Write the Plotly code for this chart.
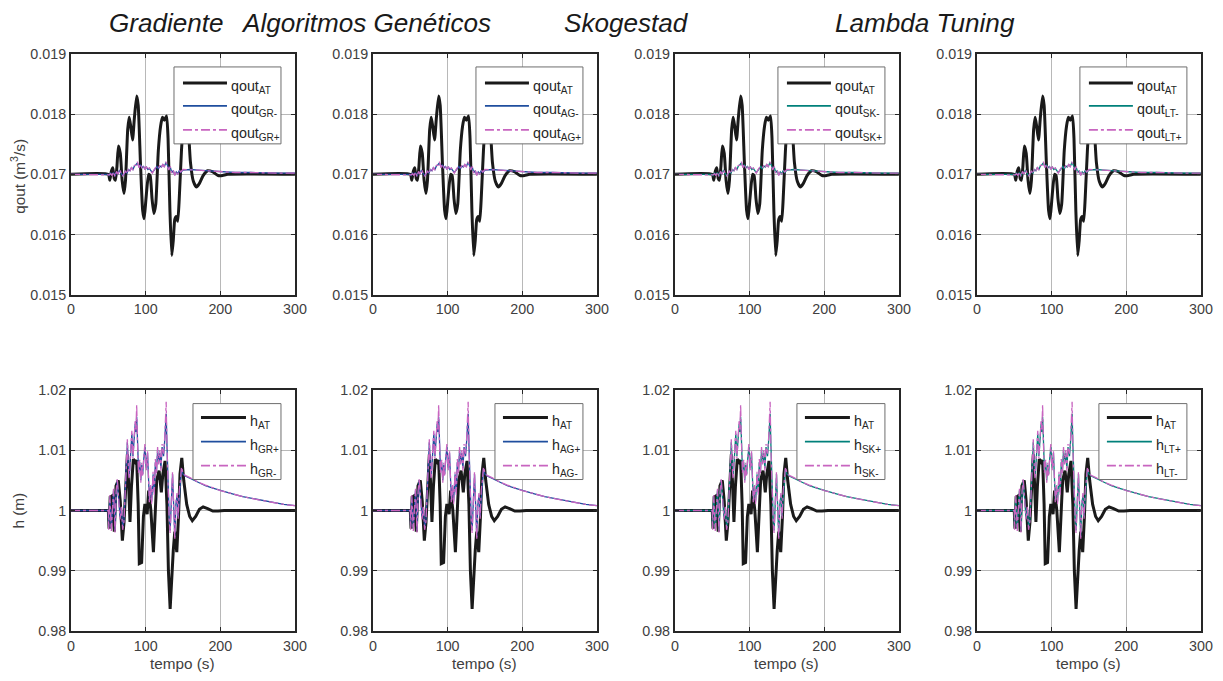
import plotly.graph_objects as go

# ---- flow rate qout (m^3/s) ----
T_Q_AT = [0, 50, 52, 54, 56, 58, 59.5, 61.5, 63.5, 66,
          68.5, 71, 73, 76, 78, 80, 82.5, 85, 88, 90,
          93, 96, 98, 100.5, 104, 106, 108.5, 111, 113.5, 117,
          120, 122.5, 125, 128, 130, 132.5, 135, 137, 139, 141,
          143, 145, 148, 151, 154, 157, 160, 164, 168, 172,
          177, 183, 190, 197, 203, 210, 300]
Q_AT = [0.01700, 0.01700, 0.01690, 0.01705, 0.01711, 0.01693, 0.01690, 0.01712, 0.01747, 0.01735,
        0.01690, 0.01668, 0.01690, 0.01775, 0.01795, 0.01780, 0.01757, 0.01795, 0.01830, 0.01815,
        0.01720, 0.01640, 0.01626, 0.01660, 0.01700, 0.01698, 0.01660, 0.01635, 0.01650, 0.01740,
        0.01780, 0.01795, 0.01790, 0.01797, 0.01760, 0.01640, 0.01565, 0.01590, 0.01625, 0.01630,
        0.01622, 0.01660, 0.01740, 0.01790, 0.01810, 0.01780, 0.01720, 0.01688, 0.01679, 0.01685,
        0.01698, 0.01706, 0.01704, 0.01698, 0.01698, 0.01700, 0.01700]

T_Q = [0, 50,
       51, 53, 55, 57, 59, 61, 63, 65, 67, 69,
       71, 73, 75, 77, 79, 81, 83, 85, 87, 89,
       91, 93, 95, 97, 99, 101, 103, 105, 107, 109,
       111, 113, 115, 117, 119, 121, 123, 125, 127, 129,
       131, 133, 135, 137, 139, 141, 143, 145, 147,
       150, 155, 160, 170, 180, 190, 200, 220, 240, 260, 280, 300]
Q_MINUS = [0.01700, 0.01700,
           0.01698, 0.01702, 0.01699, 0.01703, 0.01697, 0.01704, 0.01701, 0.01707, 0.01702, 0.01698,
           0.01700, 0.01705, 0.01702, 0.01708, 0.01706, 0.01711, 0.01708, 0.01714, 0.01716, 0.01719,
           0.01712, 0.01716, 0.01711, 0.01713, 0.01709, 0.01712, 0.01708, 0.01710, 0.01706, 0.01703,
           0.01706, 0.01710, 0.01713, 0.01709, 0.01714, 0.01712, 0.01716, 0.01713, 0.01719, 0.01716,
           0.01708, 0.01712, 0.01703, 0.01706, 0.01699, 0.01704, 0.01701, 0.01706, 0.01703,
           0.01707, 0.01708, 0.01708, 0.01707, 0.01706, 0.01705, 0.01704, 0.01703, 0.01703, 0.01702, 0.01702, 0.01702]
Q_PLUS = [0.01700, 0.01700,
          0.01699, 0.01701, 0.01698, 0.01704, 0.01696, 0.01705, 0.01700, 0.01708, 0.01701, 0.01697,
          0.01701, 0.01706, 0.01701, 0.01709, 0.01705, 0.01712, 0.01707, 0.01715, 0.01715, 0.01721,
          0.01711, 0.01717, 0.01710, 0.01714, 0.01708, 0.01713, 0.01707, 0.01711, 0.01705, 0.01702,
          0.01707, 0.01711, 0.01712, 0.01710, 0.01715, 0.01711, 0.01717, 0.01712, 0.01721, 0.01715,
          0.01707, 0.01713, 0.01702, 0.01707, 0.01698, 0.01705, 0.01700, 0.01707, 0.01704,
          0.01708, 0.01708, 0.01708, 0.01707, 0.01706, 0.01705, 0.01704, 0.01703, 0.01703, 0.01702, 0.01702, 0.01702]

# ---- level h (m) ----
T_H_AT = [0, 50, 51, 52.5, 55, 57, 58, 60.3, 63.4, 66,
          68.8, 71, 73, 75.5, 77, 79, 81, 83.5, 86, 88,
          90, 91.5, 94.6, 97, 99, 102, 104, 107, 110.4, 112.5,
          114.8, 118, 121, 123, 126, 128.5, 130.5, 132.8, 134.5, 137,
          139, 141.7, 144, 146, 148.4, 151, 155, 159, 162.5, 167,
          172, 177, 183, 190, 197, 205, 300]
H_AT = [1.0, 1.0, 0.9970, 1.0022, 1.0024, 0.9980, 0.9965, 1.0041, 1.0050, 1.0015,
        0.9950, 0.9980, 1.0040, 1.0093, 1.0050, 0.9981, 1.0040, 1.0085, 1.0080, 1.0083,
        1.0010, 0.9912, 0.9914, 0.9990, 1.0011, 0.9994, 1.0033, 1.0000, 0.9931, 0.9990,
        1.0050, 1.0066, 1.0030, 1.0060, 1.0082, 1.0010, 0.9900, 0.9837, 0.9880, 0.9934,
        0.9965, 0.9931, 0.9990, 1.0060, 1.0087, 1.0050, 1.0010, 0.9990, 0.9983, 0.9990,
        1.0002, 1.0006, 1.0003, 0.9999, 0.9999, 1.0000, 1.0000]

T_H = [0, 50, 50.5, 52, 54, 55.5, 57, 59, 60.5, 62,
       64, 65.7, 67.5, 69.2, 71, 73, 75.5, 77, 78, 80,
       81.5, 83, 84.5, 86, 87, 88, 89, 90.4, 92, 93.5,
       94.6, 96, 97.5, 99, 100, 101, 102.5, 103.5, 105, 106.5,
       108, 110, 111.5, 113, 114.5, 116, 117.5, 119, 120.5, 122,
       124, 125.5, 127.5, 128.5, 130, 131.5, 132.8, 134, 135, 136,
       137.5, 139, 140.5, 142, 143.5, 145, 146.5, 148, 150, 153,
       160, 170, 180, 190, 200, 215, 230, 250, 270, 285,
       300]
H_PLUS = [1.0, 1.0, 0.9972, 1.0022, 0.9970, 1.0015, 1.0033, 0.9967, 1.0030, 1.0050,
          1.0010, 0.9989, 1.0005, 0.9972, 0.9985, 1.0040, 1.0113, 1.0070, 1.0055, 1.0095,
          1.0127, 1.0090, 1.0120, 1.0143, 1.0130, 1.0155, 1.0120, 1.0066, 1.0080, 1.0050,
          1.0075, 1.0060, 1.0085, 1.0105, 1.0085, 1.0070, 1.0095, 1.0060, 1.0017, 1.0040,
          1.0015, 1.0060, 1.0030, 1.0080, 1.0065, 1.0100, 1.0080, 1.0095, 1.0070, 1.0105,
          1.0090, 1.0115, 1.0160, 1.0110, 1.0020, 0.9990, 0.9967, 1.0010, 1.0040, 1.0060,
          1.0010, 0.9956, 1.0010, 1.0025, 0.9990, 1.0030, 1.0045, 1.0069, 1.0060, 1.0057,
          1.0053, 1.0046, 1.0041, 1.0037, 1.0033, 1.0028, 1.0023, 1.0018, 1.0013, 1.0010,
          1.0008]
H_MINUS = [1.0, 1.0, 0.9968, 1.0025, 0.9966, 1.0018, 1.0036, 0.9963, 1.0033, 1.0053,
           1.0007, 0.9985, 1.0008, 0.9968, 0.9982, 1.0043, 1.0118, 1.0066, 1.0052, 1.0100,
           1.0132, 1.0086, 1.0125, 1.0150, 1.0134, 1.0175, 1.0116, 1.0062, 1.0084, 1.0046,
           1.0079, 1.0056, 1.0089, 1.0110, 1.0081, 1.0066, 1.0099, 1.0056, 1.0013, 1.0044,
           1.0011, 1.0064, 1.0026, 1.0085, 1.0061, 1.0105, 1.0076, 1.0100, 1.0066, 1.0110,
           1.0094, 1.0120, 1.0180, 1.0106, 1.0016, 0.9986, 0.9963, 1.0014, 1.0044, 1.0064,
           1.0006, 0.9952, 1.0014, 1.0029, 0.9986, 1.0034, 1.0049, 1.0072, 1.0062, 1.0058,
           1.0054, 1.0047, 1.0042, 1.0037, 1.0033, 1.0028, 1.0023, 1.0018, 1.0013, 1.0010,
           1.0008]

TITLES = ["Gradiente", "Algoritmos Genéticos", "Skogestad", "Lambda Tuning"]
TAGS = ["GR", "AG", "SK", "LT"]
CTL_COLORS = ["#1f4e9e", "#1f4e9e", "#00807a", "#00807a"]
TITLE_X = [167, 366, 627, 925]

X_TICKS = [0, 100, 200, 300]
Q_TICKS = [0.015, 0.016, 0.017, 0.018, 0.019]
Q_TICKTEXT = ["0.015", "0.016", "0.017", "0.018", "0.019"]
H_TICKS = [0.98, 0.99, 1.0, 1.01, 1.02]
H_TICKTEXT = ["0.98", "0.99", "1", "1.01", "1.02"]

W, H = 1223, 681
# layout positions below are given in page pixels; the page shows the figure
# slightly reduced and offset, so convert page pixels to figure fractions
VIEW_SX, VIEW_OX = 0.987, 4.0
VIEW_SY, VIEW_OY = 0.9775, 7.0
FONT = "Liberation Sans, Arial, Helvetica, sans-serif"
BLACK = "#1a1a1a"
PINK = "#c865c0"

PANEL_LEFT = [71, 373, 675, 977]
PANEL_W = 224
TOP_Y = (53, 294)
BOT_Y = (389, 631)


def px_x(p):
    return (p - VIEW_OX) / VIEW_SX / W


def px_y(p):
    return 1 - (p - VIEW_OY) / VIEW_SY / H


def fs(size):
    return round(size / VIEW_SY, 1)


fig = go.Figure()

axis_common = dict(
    showgrid=True, gridcolor="#b8b8b8", gridwidth=1,
    showline=True, linecolor="#262626", linewidth=2, mirror="ticks",
    ticks="inside", ticklen=4, tickcolor="#262626", tickwidth=1,
    tickfont=dict(family=FONT, size=fs(14), color="#404040"),
    zeroline=False, fixedrange=True,
)

layout = dict(
    width=W, height=H, autosize=False,
    margin=dict(l=0, r=0, t=0, b=0),
    paper_bgcolor="white", plot_bgcolor="white",
    font=dict(family=FONT, color="#262626"),
    showlegend=False,
    annotations=[], shapes=[],
)


def add_legend_box(right, box_left, top, bottom, line_x0, line_x1, rows, entries):
    """Boxed key drawn in pixel units: entries are (label, color, width, dash)."""
    layout["shapes"].append(dict(
        type="rect", xref="paper", yref="paper",
        x0=px_x(box_left), x1=px_x(right), y0=px_y(bottom), y1=px_y(top),
        fillcolor="white", line=dict(color="#6e6e6e", width=1), layer="above"))
    for (label, color, width, dash), ry in zip(entries, rows):
        layout["shapes"].append(dict(
            type="line", xref="paper", yref="paper",
            x0=px_x(line_x0), x1=px_x(line_x1), y0=px_y(ry), y1=px_y(ry),
            line=dict(color=color, width=width, dash=dash), layer="above"))
        layout["annotations"].append(dict(
            text=label, xref="paper", yref="paper",
            x=px_x(line_x1 + 2), y=px_y(ry + 4), xanchor="left", yanchor="middle",
            showarrow=False, font=dict(family=FONT, size=fs(14), color="#262626")))


for i in range(4):
    tag = TAGS[i]
    col = CTL_COLORS[i]
    left = PANEL_LEFT[i]
    right = left + PANEL_W
    dom_x = [px_x(left), px_x(right)]
    top_n = i + 1
    bot_n = i + 5

    # upper row: outlet flow
    xa, ya = f"x{top_n}", f"y{top_n}"
    fig.add_trace(go.Scatter(x=T_Q_AT, y=Q_AT, mode="lines", xaxis=xa, yaxis=ya,
                             name="qout<sub>AT</sub>",
                             line=dict(color=BLACK, width=3, shape="spline", smoothing=0.5)))
    fig.add_trace(go.Scatter(x=T_Q, y=Q_MINUS, mode="lines", xaxis=xa, yaxis=ya,
                             name=f"qout<sub>{tag}-</sub>",
                             line=dict(color=col, width=1.3)))
    fig.add_trace(go.Scatter(x=T_Q, y=Q_PLUS, mode="lines", xaxis=xa, yaxis=ya,
                             name=f"qout<sub>{tag}+</sub>",
                             line=dict(color=PINK, width=1.3, dash="dashdot")))

    # lower row: tank level
    xb, yb = f"x{bot_n}", f"y{bot_n}"
    fig.add_trace(go.Scatter(x=T_H_AT, y=H_AT, mode="lines", xaxis=xb, yaxis=yb,
                             name="h<sub>AT</sub>",
                             line=dict(color=BLACK, width=3)))
    fig.add_trace(go.Scatter(x=T_H, y=H_PLUS, mode="lines", xaxis=xb, yaxis=yb,
                             name=f"h<sub>{tag}+</sub>",
                             line=dict(color=col, width=1.3)))
    fig.add_trace(go.Scatter(x=T_H, y=H_MINUS, mode="lines", xaxis=xb, yaxis=yb,
                             name=f"h<sub>{tag}-</sub>",
                             line=dict(color=PINK, width=1.3, dash="dashdot")))

    layout[f"xaxis{top_n}"] = dict(axis_common, domain=dom_x, anchor=f"y{top_n}",
                                   range=[0, 300], tickvals=X_TICKS)
    layout[f"yaxis{top_n}"] = dict(axis_common, domain=[px_y(TOP_Y[1]), px_y(TOP_Y[0])],
                                   anchor=f"x{top_n}", range=[0.015, 0.019],
                                   tickvals=Q_TICKS, ticktext=Q_TICKTEXT)
    layout[f"xaxis{bot_n}"] = dict(axis_common, domain=dom_x, anchor=f"y{bot_n}",
                                   range=[0, 300], tickvals=X_TICKS)
    layout[f"yaxis{bot_n}"] = dict(axis_common, domain=[px_y(BOT_Y[1]), px_y(BOT_Y[0])],
                                   anchor=f"x{bot_n}", range=[0.98, 1.02],
                                   tickvals=H_TICKS, ticktext=H_TICKTEXT)

    add_legend_box(right - 14, right - 121, 66, 143, right - 112, right - 68, [82, 105, 129], [
        ("qout<sub>AT</sub>", BLACK, 3, "solid"),
        (f"qout<sub>{tag}-</sub>", col, 1.8, "solid"),
        (f"qout<sub>{tag}+</sub>", PINK, 1.8, "dashdot"),
    ])
    add_legend_box(right - 14, right - 102, 403, 479, right - 94, right - 49, [417, 441, 465], [
        ("h<sub>AT</sub>", BLACK, 3, "solid"),
        (f"h<sub>{tag}+</sub>", col, 1.8, "solid"),
        (f"h<sub>{tag}-</sub>", PINK, 1.8, "dashdot"),
    ])

    layout["annotations"].append(dict(
        text=f"<i>{TITLES[i]}</i>", xref="paper", yref="paper",
        x=px_x(TITLE_X[i]), y=px_y(22), xanchor="center", yanchor="middle",
        showarrow=False, font=dict(family=FONT, size=fs(25.5), color="#1a1a1a")))
    layout["annotations"].append(dict(
        text="tempo (s)", xref="paper", yref="paper",
        x=px_x(left + PANEL_W / 2), y=px_y(663), xanchor="center", yanchor="middle",
        showarrow=False, font=dict(family=FONT, size=fs(15), color="#404040")))

layout["annotations"].append(dict(
    text="qout (m<sup>3</sup>/s)", xref="paper", yref="paper", textangle=-90,
    x=px_x(18), y=px_y(175), xanchor="center", yanchor="middle",
    showarrow=False, font=dict(family=FONT, size=fs(15), color="#404040")))
layout["annotations"].append(dict(
    text="h (m)", xref="paper", yref="paper", textangle=-90,
    x=px_x(18), y=px_y(510), xanchor="center", yanchor="middle",
    showarrow=False, font=dict(family=FONT, size=fs(15), color="#404040")))

fig.update_layout(**layout)
fig.write_html("out.html")
